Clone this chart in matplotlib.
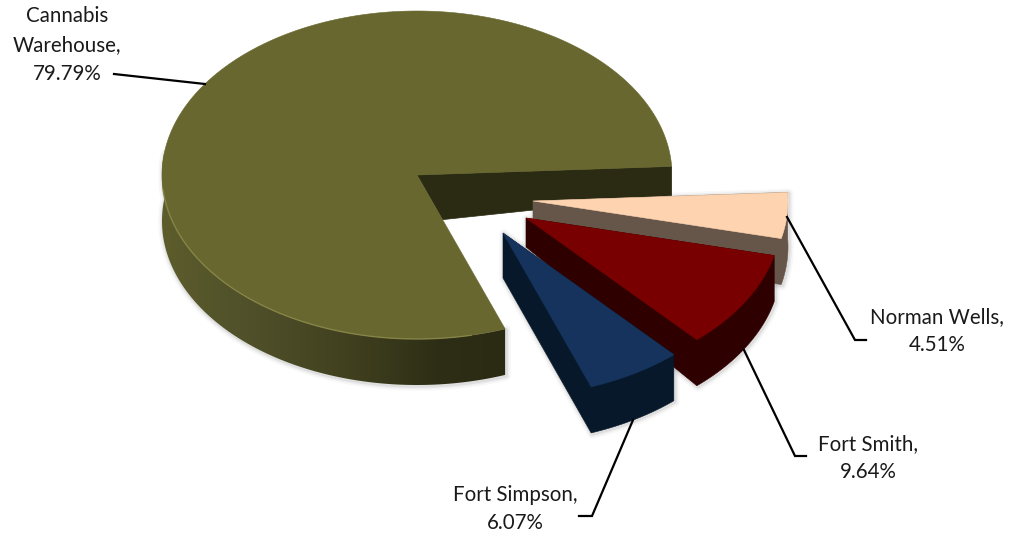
import numpy as np
import matplotlib
matplotlib.use("Agg")
import matplotlib.pyplot as plt
from matplotlib.colors import LinearSegmentedColormap
from matplotlib.patches import Polygon

categories = ["Norman Wells", "Fort Smith", "Fort Simpson", "Cannabis\nWarehouse"]
values = [4.51, 9.64, 6.07, 79.79]
value_labels = ["4.51%", "9.64%", "6.07%", "79.79%"]

# styling / layout (pixel coordinates of the picture)
START = 3.0
RX, RY = 255, 164
tips = [(533, 201), (526, 218), (503, 233), (417, 175)]
top_colors = ["#fdd3b0", "#780000", "#15335c", "#67672f"]
side_colors = ["#66564a", "#2f0000", "#06182a", "#2b2b14"]
depth = 46
tip_depths = [46, 29, 45, 46]

plt.rcParams["font.family"] = ["Lato", "DejaVu Sans"]
fig = plt.figure(figsize=(10.10, 5.35), dpi=100)
ax = fig.add_axes([0, 0, 1, 1])
ax.axis("off")

def arc(tip, a0, a1, n=160):
    t = np.radians(np.linspace(a0, a1, n))
    return tip[0] + RX * np.cos(t), tip[1] - RY * np.sin(t)

def halo(x, y):
    for lw, al in [(7, .04), (4.5, .06), (2.5, .10)]:
        ax.fill(x + 1, y + 1, facecolor="none", edgecolor="#555555", lw=lw, alpha=al,
                joinstyle="round", zorder=1)

# angular extents, clockwise from START
sweeps = np.array(values) / sum(values) * 360
ends = START - np.cumsum(sweeps)
starts = ends + sweeps

# Cannabis Warehouse: runs counter-clockwise from the east edge round to the cut
tip = tips[3]
east_a = ends[3] + 360
cut_a = starts[3] + 360
mx, my = arc(tip, east_a, cut_a, 300)
low_x, low_y = arc(tip, 172, cut_a, 200)
halo(np.r_[low_x, low_x[::-1]], np.r_[low_y + depth, low_y[::-1]])

# inner face of the gap, shorter at the back
ex, ey = arc(tip, east_a, east_a, 1)
cx, cy = arc(tip, cut_a, cut_a, 1)
frac = 0.29
ax.fill([tip[0], ex[0], ex[0], tip[0] + frac * (cx[0] - tip[0])],
        [tip[1], ey[0], ey[0] + 29, tip[1] + frac * (cy[0] - tip[1])],
        facecolor=side_colors[3], edgecolor=side_colors[3], lw=.5, zorder=2)

# outer side with a smooth left-to-right gradient
side_cmap = LinearSegmentedColormap.from_list(
    "side", [(0, "#5c5c2c"), (0.25, "#50502a"), (0.55, "#40401f"), (0.8, "#2e2e16"), (1, "#2b2b14")])
grad = np.linspace(0, 1, 512).reshape(1, -1)
im = ax.imshow(grad, cmap=side_cmap, aspect="auto", zorder=2,
               extent=(low_x.min(), low_x.max(), low_y.max() + depth, low_y.min()))
clip = Polygon(np.c_[np.r_[low_x, low_x[::-1]], np.r_[low_y + depth, low_y[::-1]]],
               transform=ax.transData, fc="none", ec="none")
ax.add_patch(clip)
im.set_clip_path(clip)

# top
ax.fill(np.r_[tip[0], mx], np.r_[tip[1], my], facecolor=top_colors[3],
        edgecolor=top_colors[3], lw=.4, zorder=3)
hx, hy = arc(tip, 185, cut_a - 8)
ax.plot(hx, hy, color="#8b8b4c", lw=1, alpha=.8, zorder=4)

# exploded slices, back to front
for i in range(3):
    tip = tips[i]
    z = 5 + i * 2
    px, py = arc(tip, starts[i], ends[i])
    sx = np.r_[tip[0], tip[0], px[::-1], px[0]]
    sy = np.r_[tip[1], tip[1] + tip_depths[i], py[::-1] + depth, py[0]]
    halo(sx, sy)
    ax.fill(sx, sy, facecolor=side_colors[i], edgecolor=side_colors[i], lw=.4, zorder=z)
    ax.fill(np.r_[tip[0], px], np.r_[tip[1], py], facecolor=top_colors[i],
            edgecolor=top_colors[i], lw=.4, zorder=z + 1)

# leader lines
leaders = [
    ([787, 855, 866], [217, 340, 340]),
    ([744, 795, 806], [350, 456, 456]),
    ([633, 592, 579], [420, 516, 516]),
    ([114, 205], [74, 84]),
]
for lx, ly in leaders:
    ax.plot(lx, ly, color="black", lw=1.6, zorder=12, solid_joinstyle="miter")

# labels
label_pos = [(937, 331), (868, 458), (515, 509), (67, 45)]
for name, val, (x, y) in zip(categories, value_labels, label_pos):
    ax.text(x, y, f"{name},\n{val}", ha="center", va="center", fontsize=14.8,
            color="#1a1a1a", linespacing=1.55, zorder=13)

ax.set_xlim(0, 1010)
ax.set_ylim(535, 0)
fig.savefig("out.png", dpi=100)
